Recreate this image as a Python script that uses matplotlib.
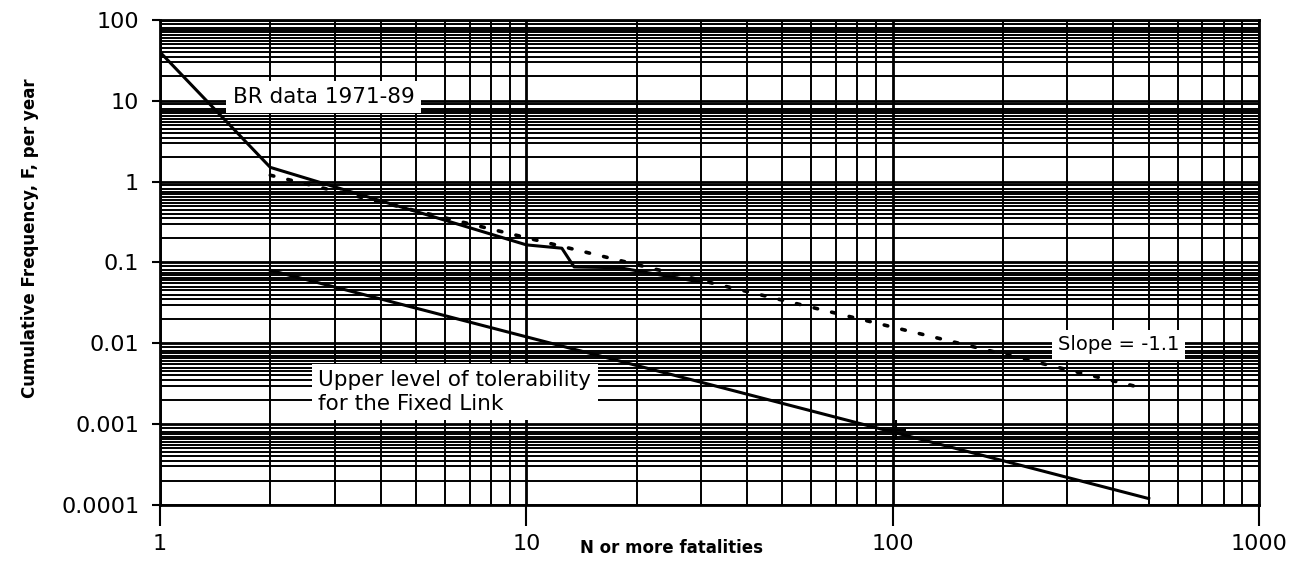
import matplotlib
matplotlib.use("Agg")
import matplotlib.pyplot as plt
from matplotlib.ticker import FixedLocator, NullFormatter

# ---- data -------------------------------------------------------------------
br_n = [1, 2, 10, 12.5, 13.5, 18, 30]
br_f = [40, 1.5, 0.165, 0.15, 0.088, 0.086, 0.057]

slope_n = [2, 480]
slope_f = [1.2, 0.0028]

upper_n = [2, 500]
upper_f = [0.08, 0.00012]

mark_n = [102]
mark_f = [0.00085]

x_ticks = [1, 10, 100, 1000]
x_labels = ["1", "10", "100", "1000"]
y_ticks = [0.0001, 0.001, 0.01, 0.1, 1, 10, 100]
y_labels = ["0.0001", "0.001", "0.01", "0.1", "1", "10", "100"]

plt.rcParams["font.family"] = ["DejaVu Sans"]

fig = plt.figure(figsize=(13.02, 5.69), dpi=100)
ax = fig.add_axes([0.1229, 0.1125, 0.8441, 0.8525])
ax.set_xscale("log")
ax.set_yscale("log")
ax.set_xlim(1, 1000)
ax.set_ylim(0.0001, 100)

# graph-paper grid: the scanned paper has half steps in the upper part of each decade
y_sub = [2, 3, 3.5, 4, 4.5, 5, 5.5, 6, 6.5, 7, 7.5, 8, 9]
y_minor = [m * 10.0 ** e for e in range(-4, 2) for m in y_sub]
x_minor = [m * 10.0 ** e for e in range(0, 3) for m in range(2, 10)]
ax.xaxis.set_minor_locator(FixedLocator(x_minor))
ax.yaxis.set_minor_locator(FixedLocator(y_minor))
ax.xaxis.set_minor_formatter(NullFormatter())
ax.yaxis.set_minor_formatter(NullFormatter())
ax.grid(True, which="major", color="black", lw=2.0)
ax.grid(True, which="minor", color="black", lw=1.4)
ax.set_axisbelow(True)

ax.set_xticks(x_ticks, x_labels, fontsize=16)
ax.set_yticks(y_ticks, y_labels, fontsize=16)
ax.tick_params(axis="x", which="major", direction="out", length=15, width=1.5, pad=6)
ax.tick_params(axis="y", which="major", direction="out", length=6, width=1.5, pad=9)
ax.tick_params(which="minor", length=0)
for sp in ax.spines.values():
    sp.set_linewidth(2)

ax.plot(br_n, br_f, color="black", lw=2.2, zorder=3)
ax.plot(slope_n, slope_f, color="black", lw=2.6, ls=(0, (1, 4)),
        dash_capstyle="round", zorder=3)
ax.plot(upper_n, upper_f, color="black", lw=2.2, zorder=3)
ax.plot(mark_n, mark_f, marker="+", ms=14, mew=1.5, color="black", zorder=3)

box = dict(boxstyle="square,pad=0.3", fc="white", ec="none")
ax.text(0.066, 0.841, "BR data 1971-89", transform=ax.transAxes, fontsize=15.5,
        va="center", ha="left", bbox=box, zorder=4)
ax.text(0.144, 0.233, "Upper level of tolerability\nfor the Fixed Link",
        transform=ax.transAxes, fontsize=15.5, va="center", ha="left",
        linespacing=1.2, bbox=box, zorder=4)
ax.text(0.817, 0.33, "Slope = -1.1", transform=ax.transAxes, fontsize=14,
        va="center", ha="left", bbox=box, zorder=4)

ax.text(0.465, -0.089, "N or more fatalities", transform=ax.transAxes,
        fontsize=12, fontweight="bold", ha="center", va="center")
ax.text(-0.118, 0.55, "Cumulative Frequency, F, per year", transform=ax.transAxes,
        fontsize=12, fontweight="bold", rotation=90, ha="center", va="center")

fig.savefig("out.png", dpi=100)
